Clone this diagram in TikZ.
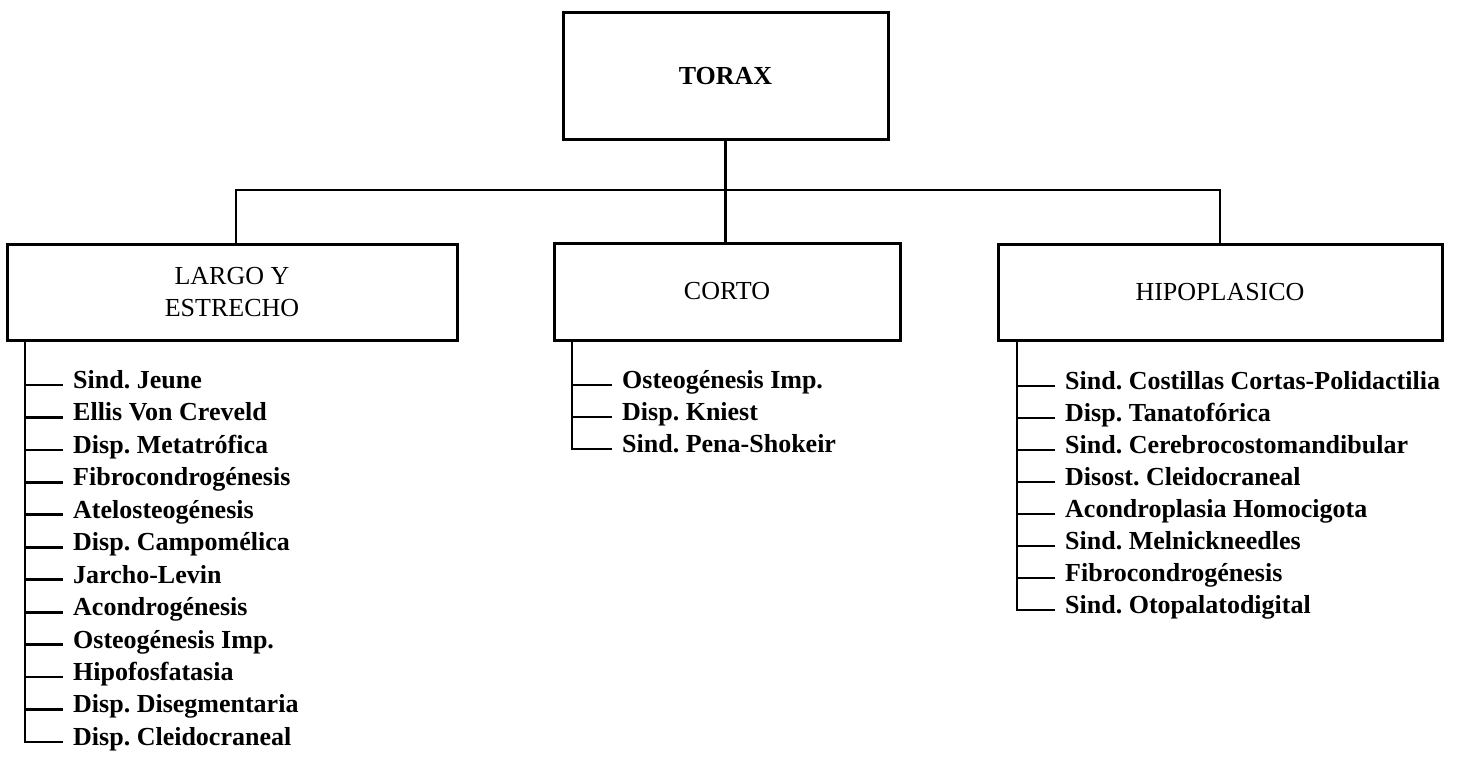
\documentclass[tikz,border=0pt]{standalone}
\usepackage{fontspec}
\setmainfont{Liberation Serif}
\frenchspacing
\begin{document}
\begin{tikzpicture}[x=1pt,y=-1pt,
  box/.style={draw, line width=3pt, inner sep=0pt, align=center,
    font=\fontsize{26}{32}\selectfont},
  item/.style={anchor=west, inner xsep=10pt, inner ysep=0pt,
    text height=0.68em, text depth=0pt,
    font=\fontsize{26}{32}\selectfont\bfseries},
  link/.style={line width=2.8pt}]
\useasboundingbox[fill=white] (0,0) rectangle (1474,762);

% main boxes
\node[box, minimum width=325pt, minimum height=127pt, font=\fontsize{26}{32}\selectfont\bfseries]
  (torax) at (725.5,76.5) {TORAX};
\node[box, minimum width=450pt, minimum height=96pt] (largo) at (232,292) {LARGO Y\\ESTRECHO};
\node[box, minimum width=346pt, minimum height=97pt] (corto) at (727,291.5) {CORTO};
\node[box, minimum width=444pt, minimum height=96pt] (hipo) at (1220,292) {HIPOPLASICO};

% tree connectors
\coordinate (bus) at (725,190);
\draw[link] (torax.south) -- (torax.south |- corto.north);
\draw[link] ([xshift=4pt]largo.north) |- (bus) -| (hipo.north);

% lists
\foreach \t [count=\i] in {Sind. Jeune, Ellis Von Creveld, Disp. Metatrófica,
  Fibrocondrogénesis, Atelosteogénesis, Disp. Campomélica, Jarcho-Levin,
  Acondrogénesis, Osteogénesis Imp., Hipofosfatasia, Disp. Disegmentaria,
  Disp. Cleidocraneal}
  \node[item] (l\i) at (63,{385+32.45*(\i-1)}) {\t};

\foreach \t [count=\i] in {Osteogénesis Imp., Disp. Kniest, Sind. Pena-Shokeir}
  \node[item] (c\i) at (612,{385+32*(\i-1)}) {\t};

\foreach \t [count=\i] in {Sind. Costillas Cortas-Polidactilia, Disp. Tanatofórica,
  Sind. Cerebrocostomandibular, Disost. Cleidocraneal, Acondroplasia Homocigota,
  Sind. Melnickneedles, Fibrocondrogénesis, Sind. Otopalatodigital}
  \node[item] (h\i) at (1055,{386+32*(\i-1)}) {\t};

% list spines and ticks
\coordinate (ls) at (25,340);
\coordinate (cs) at (572,340);
\coordinate (hs) at (1017,340);
\draw[link] (ls) |- (l12.west);
\foreach \i in {1,...,11} \draw[link] (ls |- l\i.west) -- (l\i.west);
\draw[link] (cs) |- (c3.west);
\foreach \i in {1,2} \draw[link] (cs |- c\i.west) -- (c\i.west);
\draw[link] (hs) |- (h8.west);
\foreach \i in {1,...,7} \draw[link] (hs |- h\i.west) -- (h\i.west);
\end{tikzpicture}
\end{document}
